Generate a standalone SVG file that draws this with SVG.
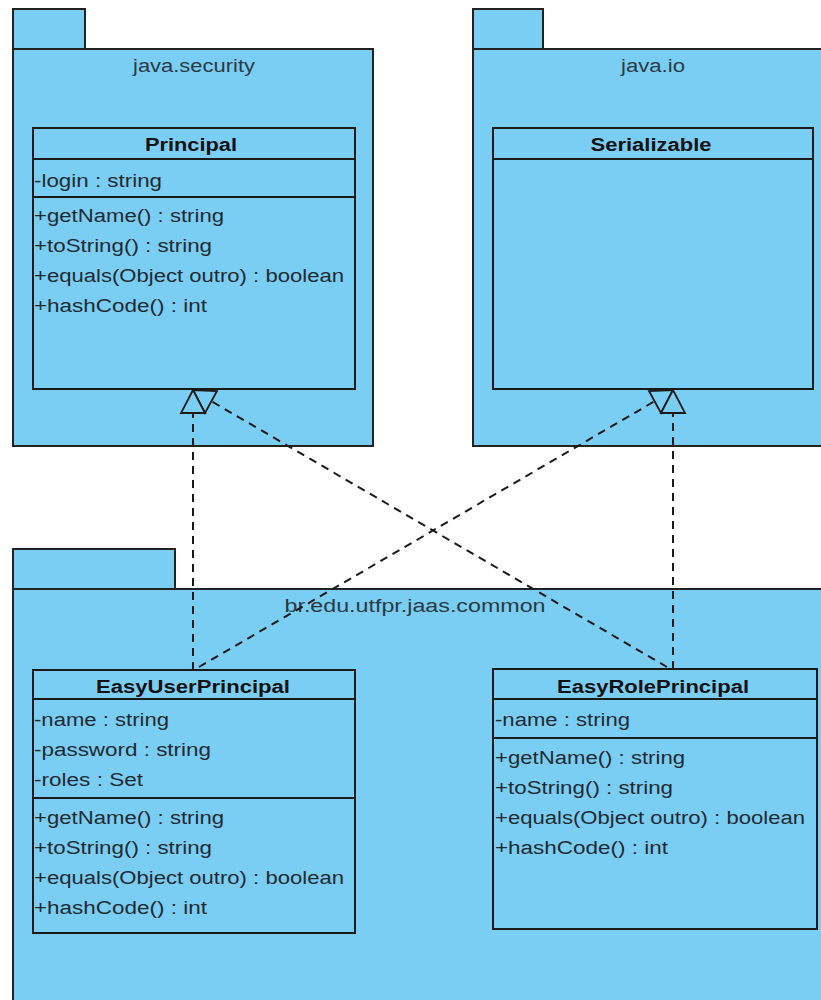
<svg xmlns="http://www.w3.org/2000/svg" width="821" height="1000" viewBox="0 0 821 1000">
<style>
.pkg{fill:#7acef4;stroke:#222;stroke-width:2}
.cls{fill:#7acef4;stroke:#1a1a1a;stroke-width:2}
.sep{stroke:#1a1a1a;stroke-width:2}
.t{font-family:"Liberation Sans",Arial,sans-serif;font-size:18px;fill:#1e2a30}
.pn{font-family:"Liberation Sans",Arial,sans-serif;font-size:18px;fill:#2a3a44;text-anchor:middle}
.cn{font-family:"Liberation Sans",Arial,sans-serif;font-size:18px;font-weight:bold;fill:#111;text-anchor:middle}
.dash{fill:none;stroke:#1a1a1a;stroke-width:2;stroke-dasharray:8 6}
.tri{fill:#7acef4;stroke:#1a1a1a;stroke-width:1.8;stroke-linejoin:miter}
</style>
<rect width="821" height="1000" fill="#ffffff"/>

<g id="pkg-java-security">
<rect class="pkg" x="13" y="9" width="72" height="40"/>
<rect class="pkg" x="13" y="49" width="360" height="397"/>
<text class="pn" x="194" y="72" textLength="122" lengthAdjust="spacingAndGlyphs">java.security</text>
</g>

<g id="pkg-java-io">
<rect class="pkg" x="473" y="9" width="70" height="40"/>
<rect class="pkg" x="473" y="49" width="360" height="397"/>
<text class="pn" x="653" y="72" textLength="64" lengthAdjust="spacingAndGlyphs">java.io</text>
</g>

<g id="pkg-common">
<rect class="pkg" x="13" y="549" width="162" height="40"/>
<rect class="pkg" x="13" y="589" width="820" height="420"/>
<text class="pn" x="415" y="612" textLength="261" lengthAdjust="spacingAndGlyphs">br.edu.utfpr.jaas.common</text>
</g>

<g id="cls-principal">
<rect class="cls" x="33" y="128" width="322" height="261"/>
<line class="sep" x1="33" y1="159" x2="355" y2="159"/>
<line class="sep" x1="33" y1="197" x2="355" y2="197"/>
<text class="cn" x="191" y="151" textLength="92" lengthAdjust="spacingAndGlyphs">Principal</text>
<text class="t" x="34" y="187" textLength="128" lengthAdjust="spacingAndGlyphs">-login : string</text>
<text class="t" x="34" y="222" textLength="190" lengthAdjust="spacingAndGlyphs">+getName() : string</text>
<text class="t" x="34" y="252" textLength="178" lengthAdjust="spacingAndGlyphs">+toString() : string</text>
<text class="t" x="34" y="282" textLength="310" lengthAdjust="spacingAndGlyphs">+equals(Object outro) : boolean</text>
<text class="t" x="34" y="312" textLength="173" lengthAdjust="spacingAndGlyphs">+hashCode() : int</text>
</g>

<g id="cls-serializable">
<rect class="cls" x="493" y="128" width="320" height="261"/>
<line class="sep" x1="493" y1="159" x2="813" y2="159"/>
<text class="cn" x="651" y="151" textLength="121" lengthAdjust="spacingAndGlyphs">Serializable</text>
</g>

<g id="cls-easyuserprincipal">
<rect class="cls" x="33" y="670" width="322" height="263"/>
<line class="sep" x1="33" y1="699" x2="355" y2="699"/>
<line class="sep" x1="33" y1="798" x2="355" y2="798"/>
<text class="cn" x="193" y="693" textLength="194" lengthAdjust="spacingAndGlyphs">EasyUserPrincipal</text>
<text class="t" x="34" y="726" textLength="135" lengthAdjust="spacingAndGlyphs">-name : string</text>
<text class="t" x="34" y="756" textLength="177" lengthAdjust="spacingAndGlyphs">-password : string</text>
<text class="t" x="34" y="786" textLength="109" lengthAdjust="spacingAndGlyphs">-roles : Set</text>
<text class="t" x="34" y="824" textLength="190" lengthAdjust="spacingAndGlyphs">+getName() : string</text>
<text class="t" x="34" y="854" textLength="178" lengthAdjust="spacingAndGlyphs">+toString() : string</text>
<text class="t" x="34" y="884" textLength="310" lengthAdjust="spacingAndGlyphs">+equals(Object outro) : boolean</text>
<text class="t" x="34" y="914" textLength="173" lengthAdjust="spacingAndGlyphs">+hashCode() : int</text>
</g>

<g id="cls-easyroleprincipal">
<rect class="cls" x="493" y="669" width="324" height="260"/>
<line class="sep" x1="493" y1="699" x2="817" y2="699"/>
<line class="sep" x1="493" y1="738" x2="817" y2="738"/>
<text class="cn" x="653" y="693" textLength="192" lengthAdjust="spacingAndGlyphs">EasyRolePrincipal</text>
<text class="t" x="495" y="726" textLength="135" lengthAdjust="spacingAndGlyphs">-name : string</text>
<text class="t" x="495" y="764" textLength="190" lengthAdjust="spacingAndGlyphs">+getName() : string</text>
<text class="t" x="495" y="794" textLength="178" lengthAdjust="spacingAndGlyphs">+toString() : string</text>
<text class="t" x="495" y="824" textLength="310" lengthAdjust="spacingAndGlyphs">+equals(Object outro) : boolean</text>
<text class="t" x="495" y="854" textLength="173" lengthAdjust="spacingAndGlyphs">+hashCode() : int</text>
</g>

<g id="connectors">
<line class="dash" x1="193" y1="670" x2="193" y2="413"/>
<line class="dash" x1="667" y1="667" x2="211" y2="401"/>
<line class="dash" x1="673" y1="669" x2="673" y2="413"/>
<line class="dash" x1="199" y1="667" x2="655" y2="401"/>
<polygon class="tri" points="193,390 205,413 217,391"/>
<polygon class="tri" points="193,390 181,413 205,413"/>
<polygon class="tri" points="673,390 661,413 649,391"/>
<polygon class="tri" points="673,390 661,413 685,413"/>
</g>
</svg>
